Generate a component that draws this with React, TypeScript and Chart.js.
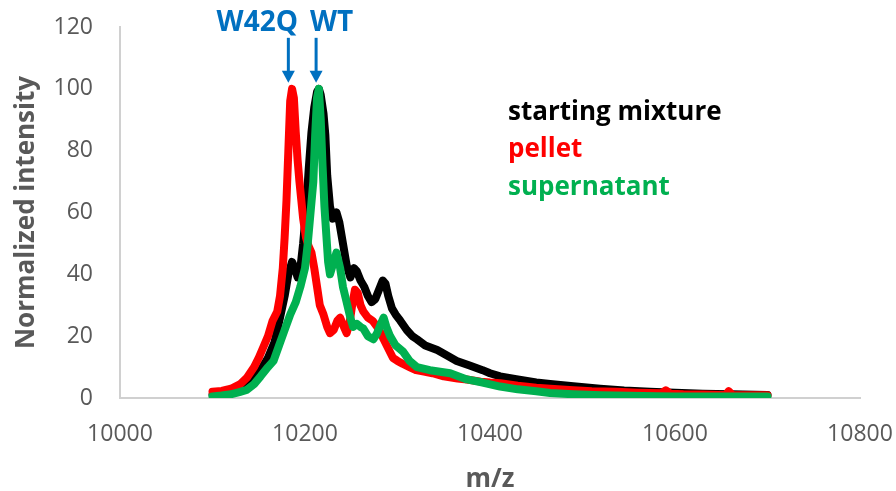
import React, { useEffect, useRef } from "react";
import { Chart, registerables } from "chart.js";

Chart.register(...registerables);

// ---- Data ----
const mixtureMz = [
  10100, 10110, 10120, 10130, 10140, 10150, 10160, 10167, 10173, 10178, 10182, 10186, 10189, 10192, 10195,
  10198, 10201, 10204, 10207, 10210, 10213, 10215, 10217, 10220, 10222, 10224, 10227, 10230, 10234, 10237,
  10241, 10245, 10249, 10253, 10256, 10260, 10264, 10268, 10272, 10276, 10280, 10284, 10287, 10290, 10294,
  10298, 10303, 10310, 10316, 10321, 10330, 10343, 10355, 10364, 10378, 10392, 10400, 10411, 10430, 10450,
  10465, 10490, 10519, 10545, 10573, 10600, 10630, 10660, 10700,
];
const mixtureIntensity = [
  1, 1.3, 2, 3, 5, 8, 13, 18, 26, 33, 40, 44, 42, 39, 42,
  50, 60, 74, 86, 94, 99, 100, 98, 92, 85, 72, 62, 58, 60, 57,
  50, 43, 39, 42, 41, 38, 36, 33, 31, 32, 35, 38, 37, 33, 29,
  27, 25, 22, 20, 19, 17, 15.5, 13.5, 12, 10.5, 9, 8, 7, 6, 5,
  4.5, 3.8, 3, 2.4, 2, 1.7, 1.4, 1.2, 1,
];

const pelletMz = [
  10100, 10110, 10120, 10130, 10137, 10145, 10150, 10155, 10160, 10165, 10170, 10173, 10176, 10178, 10180,
  10182, 10184, 10186, 10188, 10190, 10192, 10194, 10196, 10198, 10201, 10204, 10207, 10210, 10213, 10216,
  10220, 10224, 10227, 10231, 10235, 10238, 10242, 10245, 10248, 10251, 10254, 10257, 10260, 10263, 10268,
  10273, 10278, 10282, 10285, 10290, 10295, 10300, 10306, 10313, 10320, 10330, 10338, 10350, 10365, 10375,
  10390, 10400, 10411, 10430, 10450, 10465, 10490, 10510, 10537, 10560, 10585, 10590, 10595, 10609, 10630,
  10655, 10658, 10662, 10680, 10700,
];
const pelletIntensity = [
  2, 2.3, 3, 4.5, 6.5, 10, 13, 16.5, 20, 25, 28, 33, 42, 52, 64,
  80, 96, 100, 97, 86, 77, 70, 64, 58, 52, 49, 47, 42, 36, 30,
  27, 23, 21, 22, 25, 26, 23, 21, 24, 30, 35, 34, 30, 28, 26,
  25, 23, 21, 19, 16, 13, 12, 11, 10, 9, 8.5, 8, 7, 6.3, 6,
  5.3, 5, 4.8, 4, 3.3, 3, 2.5, 2.2, 2, 1.7, 1.5, 2.5, 1.4, 1.2, 1.1,
  1, 2.2, 1, 0.9, 0.9,
];

const supernatantMz = [
  10100, 10110, 10120, 10130, 10137, 10145, 10152, 10160, 10166, 10172, 10178, 10184, 10190, 10195, 10200,
  10203, 10206, 10209, 10211, 10213, 10215, 10217, 10219, 10221, 10223, 10225, 10227, 10231, 10234, 10238,
  10241, 10245, 10249, 10252, 10256, 10260, 10263, 10268, 10274, 10278, 10282, 10285, 10288, 10292, 10298,
  10306, 10313, 10321, 10335, 10357, 10375, 10392, 10411, 10430, 10450, 10465, 10490, 10520, 10550, 10580,
  10600, 10650, 10700,
];
const supernatantIntensity = [
  0.5, 0.8, 1.2, 2, 2.6, 4.5, 7, 10, 12, 17, 22, 27, 31, 36, 42,
  50, 60, 70, 85, 97, 100, 90, 75, 62, 53, 44, 40, 44, 47, 42,
  36, 31, 26, 23, 24, 23, 22.5, 20, 19, 21, 24, 26, 23, 20, 17,
  15, 12, 10, 9, 8, 6, 5, 3.7, 2.8, 2.2, 1.6, 1.2, 0.9, 0.7, 0.6,
  0.5, 0.5, 0.5,
];

const xTicks = [10000, 10200, 10400, 10600, 10800];
const yTicks = [0, 20, 40, 60, 80, 100, 120];

const seriesNames = ["starting mixture", "pellet", "supernatant"];
const seriesColors = ["#000000", "#FF0000", "#00B050"];

// Peak labels (position in data units)
const peakLabels = ["W42Q", "WT"];
const peakMz = [10182, 10212];

const toPoints = (xs: number[], ys: number[]) => xs.map((x, i) => ({ x, y: ys[i] }));

const FONT = "'Open Sans', 'Liberation Sans', sans-serif";
const GREY = "#595959";
const BLUE = "#0070C0";

const zeroPadding = (axis: any) => {
  axis.paddingLeft = 0;
  axis.paddingRight = 0;
  axis.paddingTop = 0;
  axis.paddingBottom = 0;
};

const annotationPlugin = {
  id: "annotations",
  afterDatasetsDraw(chart: any) {
    const { ctx, scales } = chart;
    const xs = scales.x;
    const ys = scales.y;
    ctx.save();
    // Peak arrows and labels
    const arrowTop = ys.getPixelForValue(116.5);
    const arrowTip = ys.getPixelForValue(102);
    ctx.strokeStyle = BLUE;
    ctx.fillStyle = BLUE;
    ctx.lineWidth = 3;
    peakMz.forEach((mz) => {
      const px = xs.getPixelForValue(mz);
      ctx.beginPath();
      ctx.moveTo(px, arrowTop);
      ctx.lineTo(px, arrowTip - 10);
      ctx.stroke();
      ctx.beginPath();
      ctx.moveTo(px - 6.5, arrowTip - 12);
      ctx.lineTo(px + 6.5, arrowTip - 12);
      ctx.lineTo(px, arrowTip);
      ctx.closePath();
      ctx.fill();
    });
    ctx.font = `bold 28px ${FONT}`;
    ctx.textBaseline = "middle";
    const labelY = ys.getPixelForValue(121.3);
    ctx.textAlign = "right";
    ctx.fillText(peakLabels[0], xs.getPixelForValue(10192.4), labelY);
    ctx.textAlign = "left";
    ctx.fillText(peakLabels[1], xs.getPixelForValue(10205.4), labelY);

    // Series legend text
    const legendX = xs.getPixelForValue(10419.5);
    const legendY = [92.2, 80.2, 67.9];
    ctx.font = `bold 26px ${FONT}`;
    ctx.textAlign = "left";
    seriesNames.forEach((name, i) => {
      ctx.fillStyle = seriesColors[i];
      ctx.fillText(name, legendX, ys.getPixelForValue(legendY[i]));
    });
    ctx.restore();
  },
};

export default function App() {
  const canvasRef = useRef<HTMLCanvasElement | null>(null);

  useEffect(() => {
    document.body.style.margin = "0";
    const canvas = canvasRef.current;
    if (!canvas) return;
    const datasets = [
      { label: seriesNames[0], data: toPoints(mixtureMz, mixtureIntensity), order: 3 },
      { label: seriesNames[1], data: toPoints(pelletMz, pelletIntensity), order: 2 },
      { label: seriesNames[2], data: toPoints(supernatantMz, supernatantIntensity), order: 1 },
    ].map((d, i) => ({
      ...d,
      borderColor: seriesColors[i],
      backgroundColor: seriesColors[i],
      borderWidth: 8,
      pointRadius: 0,
      showLine: true,
      tension: 0,
      borderJoinStyle: "round" as const,
      borderCapStyle: "round" as const,
    }));

    const chart = new Chart(canvas, {
      type: "scatter",
      data: { datasets },
      options: {
        animation: false,
        responsive: false,
        maintainAspectRatio: false,
        layout: { padding: { top: 27, right: 36, left: 0, bottom: 0 } },
        plugins: {
          legend: { display: false },
          tooltip: { enabled: false },
        },
        scales: {
          x: {
            type: "linear",
            min: xTicks[0],
            max: xTicks[xTicks.length - 1],
            afterBuildTicks: (axis: any) => {
              axis.ticks = xTicks.map((v) => ({ value: v }));
            },
            afterFit: (axis: any) => {
              axis.height = 93;
              zeroPadding(axis);
            },
            grid: { display: false, drawTicks: false },
            border: { display: true, color: "#D0D0D0", width: 2 },
            ticks: {
              color: GREY,
              padding: 23,
              maxRotation: 0,
              font: { family: FONT, size: 23 },
              callback: (v: any) => String(v),
            },
            title: {
              display: true,
              text: "m/z",
              color: GREY,
              font: { family: FONT, size: 26, weight: "bold" },
              padding: { top: 0, bottom: -4 },
            },
          },
          y: {
            type: "linear",
            min: yTicks[0],
            max: yTicks[yTicks.length - 1],
            afterBuildTicks: (axis: any) => {
              axis.ticks = yTicks.map((v) => ({ value: v }));
            },
            afterFit: (axis: any) => {
              axis.width = 120;
              zeroPadding(axis);
            },
            grid: { display: false, drawTicks: false },
            border: { display: true, color: "#D0D0D0", width: 2 },
            ticks: {
              color: GREY,
              padding: 27,
              font: { family: FONT, size: 23 },
            },
            title: {
              display: true,
              text: "Normalized intensity",
              color: GREY,
              font: { family: FONT, size: 26, weight: "bold" },
              padding: { top: 11, bottom: 0 },
            },
          },
        },
      },
      plugins: [annotationPlugin],
    });
    return () => chart.destroy();
  }, []);

  return (
    <div style={{ position: "fixed", left: 0, top: 0, width: 896, height: 491, background: "#fff" }}>
      <canvas ref={canvasRef} width={896} height={491} style={{ width: 896, height: 491 }} />
    </div>
  );
}
